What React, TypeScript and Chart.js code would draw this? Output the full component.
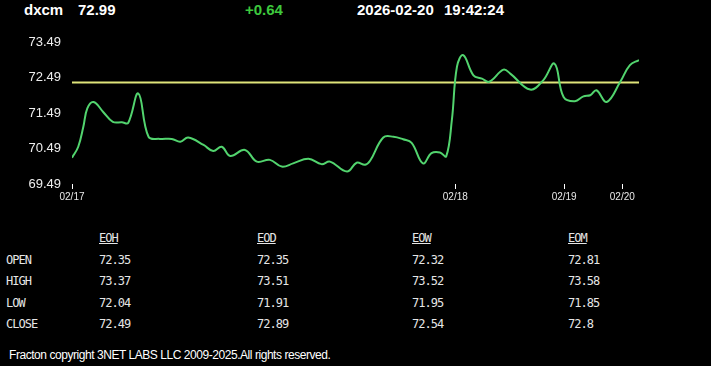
import React, { useEffect, useRef } from "react";
import { Chart, registerables } from "chart.js";

Chart.register(...registerables);

const SYMBOL = "dxcm";
const LAST_PRICE = "72.99";
const CHANGE = "+0.64";
const DATE_TEXT = "2026-02-20";
const TIME_TEXT = "19:42:24";
const PREV_CLOSE = 72.35;

// x positions of samples (session time, 0..100)
const timePos = [
  0, 1.1, 2.0, 2.7, 3.8, 5.5, 7.2, 8.8, 9.9, 11.7, 13.5, 15.5, 17.6, 19.1, 20.5,
  23.2, 24.9, 26.4, 27.9, 30.5, 32.6, 34.9, 37.0, 39.0, 41.7, 44.0, 45.5, 48.5,
  50.2, 51.7, 52.6, 54.9, 56.7, 58.4, 59.9, 61.9, 63.4, 64.9, 66.0, 67.0, 67.9,
  69.0, 70.8, 72.3, 73.6, 76.1, 77.3, 80.8, 83.1, 85.1, 86.7, 88.7, 90.2, 91.4,
  92.5, 94.3, 96.7, 98.4, 100,
];
const prices = [
  70.23, 70.54, 71.1, 71.62, 71.8, 71.52, 71.24, 71.23, 71.21, 72.04, 70.82,
  70.76, 70.76, 70.68, 70.8, 70.59, 70.42, 70.54, 70.28, 70.45, 70.12, 70.17,
  69.98, 70.07, 70.2, 70.05, 70.12, 69.84, 70.09, 70.03, 70.15, 70.8, 70.82,
  70.75, 70.65, 70.07, 70.36, 70.38, 70.27, 71.3, 72.8, 73.12, 72.55, 72.46,
  72.37, 72.71, 72.6, 72.15, 72.41, 72.88, 71.94, 71.82, 71.96, 71.99, 72.13,
  71.8, 72.37, 72.84, 72.98,
];

const dayTickPos = [0, 67.6, 86.8, 97.05];
const dayTickLabels = ["02/17", "02/18", "02/19", "02/20"];
const yTickValues = [69.49, 70.49, 71.49, 72.49, 73.49];

const tableCols = ["EOH", "EOD", "EOW", "EOM"];
const tableRows = ["OPEN", "HIGH", "LOW", "CLOSE"];
const eohValues = ["72.35", "73.37", "72.04", "72.49"];
const eodValues = ["72.35", "73.51", "71.91", "72.89"];
const eowValues = ["72.32", "73.52", "71.95", "72.54"];
const eomValues = ["72.81", "73.58", "71.85", "72.8"];
const tableValues = [eohValues, eodValues, eowValues, eomValues];

const FOOTER = "Fracton copyright 3NET LABS LLC 2009-2025.All rights reserved.";

const colX = [99, 257, 412, 568];
const rowY = [253, 274, 296, 317];

export default function App() {
  const canvasRef = useRef<HTMLCanvasElement | null>(null);

  useEffect(() => {
    const canvas = canvasRef.current;
    if (!canvas) return;
    const chart = new Chart(canvas, {
      type: "line",
      data: {
        datasets: [
          {
            data: timePos.map((x, i) => ({ x, y: prices[i] })),
            borderColor: "#52d46e",
            borderWidth: 2,
            pointRadius: 0,
            tension: 0.4,
            fill: false,
          },
          {
            data: [
              { x: timePos[0], y: PREV_CLOSE },
              { x: timePos[timePos.length - 1], y: PREV_CLOSE },
            ],
            borderColor: "#dfe47a",
            borderWidth: 2,
            pointRadius: 0,
            fill: false,
          },
        ],
      },
      options: {
        animation: false,
        responsive: false,
        maintainAspectRatio: false,
        layout: { padding: { top: 42, right: 72, left: 0, bottom: 0 } },
        plugins: { legend: { display: false }, tooltip: { enabled: false } },
        scales: {
          x: {
            type: "linear",
            min: 0,
            max: 100,
            afterBuildTicks: (scale: any) => {
              scale.ticks = dayTickPos.map((v) => ({ value: v }));
            },
            afterFit: (scale: any) => {
              scale.height = 31;
            },
            ticks: {
              color: "#e8e8e8",
              font: { family: "Liberation Sans, Arial, sans-serif", size: 10 },
              padding: 2,
              maxRotation: 0,
              autoSkip: false,
              callback: (value: any) => {
                const idx = dayTickPos.indexOf(Number(value));
                return idx >= 0 ? dayTickLabels[idx] : "";
              },
            },
            grid: {
              display: true,
              drawOnChartArea: false,
              drawTicks: true,
              tickLength: 5,
              color: "#ffffff",
              lineWidth: 1,
            },
            border: { display: false },
          },
          y: {
            type: "linear",
            min: 69.49,
            max: 73.49,
            afterBuildTicks: (scale: any) => {
              scale.ticks = yTickValues.map((v) => ({ value: v }));
            },
            afterFit: (scale: any) => {
              scale.width = 72;
            },
            ticks: {
              color: "#eeeeee",
              font: { family: "Liberation Sans, Arial, sans-serif", size: 13 },
              padding: 11,
              callback: (value: any) => Number(value).toFixed(2),
            },
            grid: { display: false, drawTicks: false },
            border: { display: false },
          },
        },
      },
    });
    return () => chart.destroy();
  }, []);

  const headStyle: React.CSSProperties = {
    position: "absolute",
    top: 1,
    fontFamily: "Liberation Sans, Arial, sans-serif",
    fontWeight: "bold",
    fontSize: 15,
    color: "#ffffff",
    whiteSpace: "pre",
    lineHeight: "17px",
  };
  const mono: React.CSSProperties = {
    position: "absolute",
    fontFamily: "'DejaVu Sans Mono', 'Liberation Mono', monospace",
    fontSize: 12,
    letterSpacing: "-1px",
    color: "#e6e6e6",
    lineHeight: "14px",
    whiteSpace: "pre",
  };

  return (
    <div
      style={{
        position: "fixed",
        left: 0,
        top: 0,
        width: 711,
        height: 366,
        background: "#000000",
        overflow: "hidden",
      }}
    >
      <div style={{ ...headStyle, left: 24 }}>{SYMBOL}</div>
      <div style={{ ...headStyle, left: 78 }}>{LAST_PRICE}</div>
      <div style={{ ...headStyle, left: 245, color: "#3dc83d" }}>{CHANGE}</div>
      <div style={{ ...headStyle, left: 357 }}>{DATE_TEXT}</div>
      <div style={{ ...headStyle, left: 444 }}>{TIME_TEXT}</div>
      <canvas
        ref={canvasRef}
        width={711}
        height={215}
        style={{ position: "absolute", left: 0, top: 0, width: 711, height: 215 }}
      />
      {tableCols.map((c, i) => (
        <div
          key={c}
          style={{ ...mono, left: colX[i], top: 231, textDecoration: "underline" }}
        >
          {c}
        </div>
      ))}
      {tableRows.map((r, j) => (
        <div key={r} style={{ ...mono, left: 6, top: rowY[j] }}>
          {r}
        </div>
      ))}
      {tableValues.map((col, i) =>
        col.map((v, j) => (
          <div key={i + "-" + j} style={{ ...mono, left: colX[i], top: rowY[j] }}>
            {v}
          </div>
        ))
      )}
      <div
        style={{
          position: "absolute",
          left: 9,
          top: 348,
          fontFamily: "Liberation Sans, Arial, sans-serif",
          fontSize: 12,
          color: "#ffffff",
          whiteSpace: "pre",
          lineHeight: "15px",
          letterSpacing: "-0.45px",
        }}
      >
        {FOOTER}
      </div>
    </div>
  );
}
